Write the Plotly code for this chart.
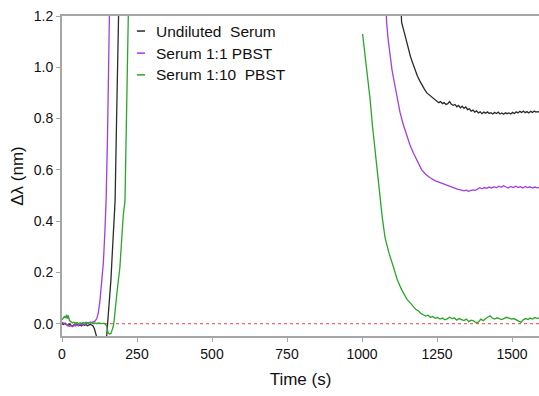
import plotly.graph_objects as go

# ---------------- data ----------------
undiluted_t = [0, 5, 10, 15, 20, 25, 30, 35, 40, 45, 50, 55, 60, 65, 70, 75, 80, 85, 90, 95, 100, 104, 108, 112, 116, 120,
               145, 149, 152, 155, 158, 163, 167, 171, 177, 182, 188, 191, 600,
               1128, 1132, 1140, 1147, 1154, 1162, 1171, 1178, 1185, 1193, 1200, 1208, 1216, 1224, 1230, 1237, 1243,
               1250, 1256, 1262, 1268, 1274, 1280, 1286, 1292, 1298, 1304, 1310, 1316, 1322, 1328, 1334, 1340, 1346,
               1352, 1358, 1364, 1370, 1376, 1382, 1388, 1394, 1400, 1406, 1412, 1418, 1424, 1430, 1436, 1442, 1448,
               1454, 1460, 1466, 1472, 1478, 1484, 1490, 1496, 1502, 1508, 1514, 1520, 1526, 1532, 1538, 1544, 1550,
               1556, 1562, 1568, 1574, 1580, 1586, 1592]
undiluted_v = [0.0, -0.003, 0.002, -0.004, -0.008, -0.002, -0.006, -0.010, -0.004, -0.007, -0.002, -0.008, -0.005,
               -0.009, -0.003, -0.006, -0.004, -0.008, -0.005, -0.003, -0.006, -0.010, -0.02, -0.035, -0.05, -0.07,
               -0.07, -0.05, 0.0, 0.04, 0.094, 0.17, 0.26, 0.35, 0.48, 0.8, 1.2, 1.35, None,
               1.3, 1.175, 1.14, 1.105, 1.077, 1.04, 1.01, 0.985, 0.965, 0.946, 0.93, 0.915, 0.90, 0.893, 0.885, 0.878,
               0.875, 0.870, 0.862, 0.866, 0.858, 0.862, 0.855, 0.858, 0.866, 0.856, 0.852, 0.855, 0.846, 0.851, 0.842,
               0.848, 0.840, 0.845, 0.835, 0.838, 0.829, 0.833, 0.825, 0.83, 0.822, 0.826, 0.819, 0.825, 0.821, 0.826,
               0.82, 0.823, 0.818, 0.824, 0.82, 0.825, 0.818, 0.822, 0.817, 0.823, 0.819, 0.822, 0.818, 0.824, 0.82,
               0.826, 0.822, 0.828, 0.824, 0.829, 0.823, 0.827, 0.822, 0.828, 0.824, 0.829, 0.825, 0.827, 0.826]

half_t = [0, 5, 10, 15, 20, 25, 30, 35, 40, 45, 50, 55, 60, 65, 70, 75, 80, 85, 90, 95, 100, 105, 110, 116, 121, 127,
          132, 138, 143, 147, 152, 158, 160, 600,
          1078, 1082, 1087, 1093, 1100, 1110, 1118, 1127, 1138, 1149, 1160, 1171, 1185, 1199, 1213, 1227, 1243, 1260,
          1270, 1280, 1293, 1300, 1310, 1320, 1332, 1340, 1348, 1355, 1362, 1370, 1378, 1386, 1393, 1400, 1408, 1416,
          1424, 1432, 1440, 1448, 1456, 1464, 1472, 1480, 1488, 1496, 1504, 1512, 1520, 1528, 1536, 1544, 1552, 1560,
          1568, 1576, 1584, 1592]
half_v = [0.005, 0.003, 0.0, -0.004, -0.006, -0.01, -0.008, -0.012, -0.006, -0.009, -0.004, -0.007, -0.002, -0.005,
          0.0, -0.003, 0.002, 0.004, 0.003, 0.006, 0.005, 0.008, 0.01, 0.02, 0.042, 0.094, 0.17, 0.24, 0.36, 0.48,
          0.75, 1.2, 1.35, None,
          1.3, 1.175, 1.11, 1.057, 0.99, 0.927, 0.87, 0.823, 0.775, 0.732, 0.697, 0.667, 0.63, 0.60, 0.582, 0.569,
          0.558, 0.55, 0.545, 0.541, 0.536, 0.532, 0.528, 0.524, 0.521, 0.518, 0.521, 0.516, 0.519, 0.522, 0.52,
          0.527, 0.53, 0.526, 0.531, 0.528, 0.533, 0.529, 0.534, 0.53, 0.536, 0.532, 0.538, 0.533, 0.529, 0.535,
          0.531, 0.536, 0.532, 0.534, 0.529, 0.535, 0.531, 0.534, 0.529, 0.533, 0.53, 0.531]

tenth_t = [0, 4, 8, 12, 15, 18, 21, 25, 30, 35, 40, 45, 50, 55, 60, 65, 70, 75, 80, 85, 90, 95, 100, 105, 110, 115,
           120, 125, 130, 135, 140, 145, 149, 154, 158, 163, 167, 171, 174, 177, 182, 188, 193, 198, 204, 210, 215,
           221, 223, 600,
           1002, 1008, 1016, 1021, 1027, 1035, 1043, 1051, 1060, 1068, 1077, 1090, 1104, 1118, 1132, 1140, 1150, 1160,
           1171, 1180, 1188, 1196, 1204, 1212, 1220, 1228, 1236, 1244, 1252, 1260, 1268, 1276, 1284, 1292, 1300,
           1308, 1316, 1324, 1332, 1340, 1348, 1356, 1364, 1372, 1380, 1388, 1396, 1404, 1412, 1420, 1427, 1434,
           1442, 1450, 1458, 1466, 1474, 1482, 1490, 1498, 1506, 1514, 1522, 1530, 1538, 1546, 1554, 1560, 1568,
           1576, 1584, 1592]
tenth_v = [0.015, 0.02, 0.028, 0.022, 0.035, 0.02, 0.032, 0.012, 0.008, 0.003, 0.006, 0.002, 0.005, 0.0, 0.004,
           0.001, 0.005, 0.002, 0.006, 0.003, 0.005, 0.002, 0.004, 0.001, 0.003, 0.0, 0.003, 0.001, 0.002, 0.0,
           0.002, -0.002, -0.01, -0.036, -0.04, -0.038, -0.025, -0.01, 0.015, 0.042, 0.107, 0.17, 0.22, 0.31, 0.42,
           0.48, 0.75, 1.2, 1.35, None,
           1.13, 1.07, 1.005, 0.94, 0.875, 0.77, 0.68, 0.58, 0.484, 0.41, 0.335, 0.275, 0.224, 0.17, 0.133, 0.115,
           0.095, 0.082, 0.068, 0.055, 0.05, 0.04, 0.035, 0.03, 0.033, 0.025, 0.028, 0.021, 0.024, 0.018, 0.022,
           0.015, 0.019, 0.025, 0.02, 0.022, 0.014, 0.02, 0.016, 0.012, 0.018, 0.008, 0.014, 0.011, 0.004, 0.006,
           0.018, 0.012, 0.02, 0.025, 0.031, 0.022, 0.018, 0.023, 0.02, 0.016, 0.021, 0.025, 0.022, 0.018, 0.02,
           0.016, 0.012, 0.005, 0.016, 0.02, 0.016, 0.022, 0.018, 0.024, 0.021, 0.022]

baseline_t = [0, 1600]
baseline_v = [0, 0]

series_names = ["Undiluted  Serum", "Serum 1:1 PBST", "Serum 1:10  PBST"]
series_colors = ["#2b2b2b", "#a03ee0", "#2aa52a"]

x_ticks = [0, 250, 500, 750, 1000, 1250, 1500]
y_ticks = [0.0, 0.2, 0.4, 0.6, 0.8, 1.0, 1.2]

FONT = "Arial, 'Liberation Sans', sans-serif"

fig = go.Figure()
fig.add_trace(go.Scatter(x=baseline_t, y=baseline_v, mode="lines",
                         line=dict(color="#e86a6a", width=1.2, dash="dot"),
                         showlegend=False, hoverinfo="skip"))
for t, v, c in [(undiluted_t, undiluted_v, series_colors[0]),
                (half_t, half_v, series_colors[1]),
                (tenth_t, tenth_v, series_colors[2])]:
    fig.add_trace(go.Scatter(x=t, y=v, mode="lines", connectgaps=False,
                             line=dict(color=c, width=1.3), showlegend=False))

# manual legend (short line segments + text), in paper coordinates
legend_rows_y = [0.953, 0.884, 0.816]
for name, col, yy in zip(series_names, series_colors, legend_rows_y):
    fig.add_shape(type="line", xref="paper", yref="paper", x0=0.157, x1=0.174, y0=yy, y1=yy,
                  line=dict(color=col, width=1.5))
    fig.add_annotation(xref="paper", yref="paper", x=0.193, y=yy, text=name, showarrow=False,
                       xanchor="left", yanchor="middle", font=dict(family=FONT, size=15.5, color="#111"))

axis_common = dict(showline=True, linecolor="#a6a6a6", linewidth=2, ticks="outside", ticklen=4,
                   tickcolor="#a6a6a6", tickwidth=1, showgrid=False, zeroline=False, automargin=False,
                   tickfont=dict(family=FONT, size=14, color="#111"))

fig.update_layout(
    width=539, height=396,
    margin=dict(l=62, r=0, t=16, b=60),
    paper_bgcolor="white", plot_bgcolor="white",
    xaxis=dict(range=[0, 1590], tickvals=x_ticks, mirror=True,
               title=dict(text="Time (s)", font=dict(family=FONT, size=17, color="#111"), standoff=12),
               **axis_common),
    yaxis=dict(range=[-0.048, 1.2], tickvals=y_ticks, tickformat=".1f",
               title=dict(text="Δλ (nm)", font=dict(family=FONT, size=17, color="#111"), standoff=6),
               **axis_common),
)

fig.write_html("out.html", config={"displayModeBar": False},
               post_script="document.body.style.margin='0';")
